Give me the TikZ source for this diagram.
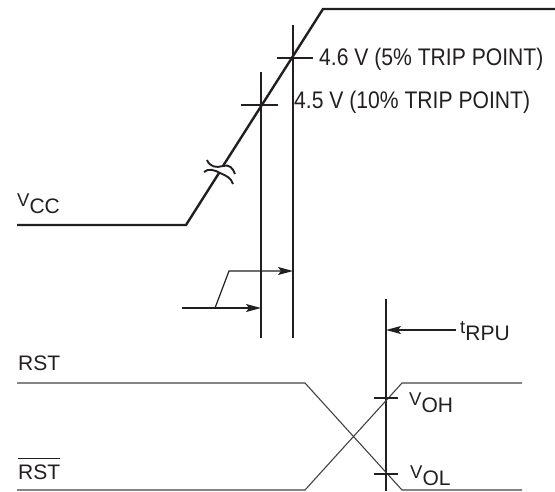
\documentclass[tikz,border=0pt]{standalone}
\usepackage{fontspec}
\setmainfont{Liberation Sans}
\newfontfamily\tallfont[FakeStretch=0.88]{Liberation Sans}
\usetikzlibrary{arrows.meta}
\definecolor{ink}{HTML}{231F20}
\newcommand\sigl[2]{{\fontsize{18.5}{18.5}\selectfont #1}\raisebox{-7pt}{#2}}
\begin{document}
\begin{tikzpicture}[x=1pt,y=-1pt,
  every node/.style={inner sep=0pt, text=ink, font=\fontsize{21}{21}\selectfont},
  vccline/.style={draw=ink, line width=2.4pt, line join=miter},
  guide/.style={draw=ink, line width=1.2pt},
  sigline/.style={draw=ink!85, line width=1.1pt},
  tick/.style={draw=ink, line width=1.1pt},
  arr/.style={draw=ink, line width=1.2pt, -{Stealth[length=15pt,width=8pt,inset=3pt]}},
  biglab/.style={anchor=base west, font=\tallfont\fontsize{24}{24}\selectfont},
  lab/.style={anchor=base west}]
\useasboundingbox (0,0) rectangle (555,491);
% Vcc waveform
\coordinate (v0) at (17,225);
\coordinate (v1) at (186,225);
\coordinate (vb1) at (219,173);
\coordinate (vb2) at (223,166);
\coordinate (v2) at (323,9);
\coordinate (v3) at (555,9);
\draw[vccline] (v0) -- (v1) -- (vb1);
\draw[vccline] (vb2) -- (v2) -- (v3);
% break mark
\draw[draw=ink, line width=1.9pt] (207,160) .. controls (210,167) and (216,168) .. (223,166) .. controls (229,164) and (233,168) .. (235,174);
\draw[draw=ink, line width=1.9pt] (204,172) .. controls (208,168) and (215,170) .. (220,173) .. controls (227,176) and (231,178) .. (233,184);
% guide lines
\coordinate (g1t) at (261,72);  \coordinate (g1b) at (261,338);
\coordinate (g2t) at (293,25);  \coordinate (g2b) at (293,338);
\coordinate (g3t) at (386,299); \coordinate (g3b) at (386,491);
\draw[guide] (g1t) -- (g1b);
\draw[guide] (g2t) -- (g2b);
\draw[guide] (g3t) -- (g3b);
% trip point ticks
\coordinate (t1a) at (241,105); \coordinate (t1b) at (278,105);
\coordinate (t2a) at (277,58);  \coordinate (t2b) at (313,58);
\draw[tick] (t1a) -- (t1b);
\draw[tick] (t2a) -- (t2b);
\node[biglab] (l46) at (319,65) {4.6 V (5\% TRIP POINT)};
\node[biglab] (l45) at (294,108) {4.5 V (10\% TRIP POINT)};
\node[lab] (vcc) at (17,206) {\sigl{V}{CC}};
% arrows to trip lines
\coordinate (a0) at (182,308);
\coordinate (a1) at (215,308);
\coordinate (a2) at (229,271);
\coordinate (e1) at (261,308);
\coordinate (e2) at (293,271);
\draw[arr] (a0) -- (e1);
\draw[arr] (a1) -- (a2) -- (e2);
% tRPU
\coordinate (r0) at (456,330);
\coordinate (r1) at (386,330);
\draw[arr] (r0) -- (r1);
\node[lab] (trpu) at (460,333) {\sigl{t}{RPU}};
% RST waveforms
\coordinate (h0) at (17,383);  \coordinate (h1) at (305,383);
\coordinate (h2) at (402,383); \coordinate (h3) at (522,383);
\coordinate (l0) at (17,490);  \coordinate (l1) at (305,490);
\coordinate (l2) at (402,490); \coordinate (l3) at (522,490);
\draw[sigline] (h0) -- (h1) -- (l2) -- (l3);
\draw[sigline] (l0) -- (l1) -- (h2) -- (h3);
\coordinate (k1a) at (374,398); \coordinate (k1b) at (398,398);
\coordinate (k2a) at (374,474); \coordinate (k2b) at (398,474);
\draw[tick] (k1a) -- (k1b);
\draw[tick] (k2a) -- (k2b);
\node[lab] (voh) at (409,405) {\sigl{V}{OH}};
\node[lab] (vol) at (410,478) {\sigl{V}{OL}};
\node[lab] (rst) at (18,370) {RST};
\node[lab] (rstb) at (18,479) {RST};
\draw[draw=ink, line width=1.1pt] ([yshift=6pt]rstb.north west) -- ([yshift=6pt]rstb.north east);
\end{tikzpicture}
\end{document}
